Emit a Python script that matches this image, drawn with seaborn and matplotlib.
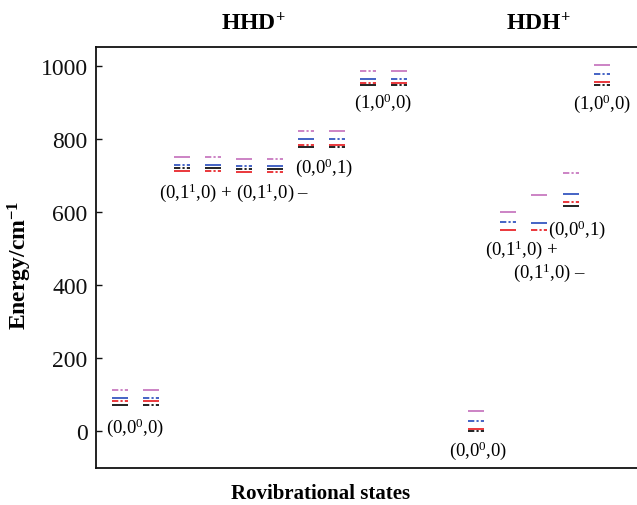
import numpy as np
import pandas as pd
import matplotlib
matplotlib.use('Agg')
import matplotlib.pyplot as plt
import seaborn as sns

sns.set_style('ticks')
plt.rcParams['font.family'] = ['Liberation Serif', 'DejaVu Serif']
plt.rcParams['mathtext.fontset'] = 'custom'
plt.rcParams['mathtext.rm'] = 'Liberation Serif'
plt.rcParams['mathtext.it'] = 'Liberation Serif:italic'
plt.rcParams['mathtext.bf'] = 'Liberation Serif:bold'

# ---------------- data (cm^-1) ----------------
# HHD+ : two columns per state
hhd_cols = ['000a', '000b', '010pa', '010pb', '010ma', '010mb', '001a', '001b', '100a', '100b']
hhd_black = [73, 73, 722, 722, 719, 719, 779, 779, 948, 948]
hhd_red = [82, 82, 712, 712, 711, 711, 785, 785, 953, 953]
hhd_blue = [92, 92, 729, 729, 726, 726, 800, 800, 965, 965]
hhd_magenta = [113, 113, 750, 750, 745, 745, 822, 822, 985, 985]

# HDH+ : one column per state
hdh_cols = ['000', '010p', '010m', '001', '100']
hdh_black = [0, np.nan, np.nan, 616, 948]
hdh_red = [8, 552, 550, 627, 955]
hdh_blue = [28, 572, 570, 650, 977]
hdh_magenta = [57, 601, 646, 708, 1003]

y_ticks = [0, 200, 400, 600, 800, 1000]

# ---------------- styles ----------------
colors = {'black': '#111111', 'red': '#e8282c', 'blue': '#3657c0', 'magenta': '#c879c0'}
DD = (0, (3.5, 1.2, 1.2, 1.2))
S = '-'
# line style per column for (magenta, blue, red, black)
patA = {'magenta': DD, 'blue': S, 'red': DD, 'black': S}
patB = {'magenta': S, 'blue': DD, 'red': S, 'black': DD}
hhd_pats = [patA, patB, patB, patA, patB, patA, patA, patB, patA, patB]
hdh_pats = [patB, patB,
            {'magenta': S, 'blue': S, 'red': DD, 'black': DD},
            patA, patB]

rows = []
for i, c in enumerate(hhd_cols):
    for name, arr in [('black', hhd_black), ('red', hhd_red), ('blue', hhd_blue), ('magenta', hhd_magenta)]:
        rows.append(dict(mol='HHD', col=i, color=name, E=arr[i], ls=hhd_pats[i][name]))
for j, c in enumerate(hdh_cols):
    for name, arr in [('black', hdh_black), ('red', hdh_red), ('blue', hdh_blue), ('magenta', hdh_magenta)]:
        rows.append(dict(mol='HDH', col=j, color=name, E=arr[j], ls=hdh_pats[j][name]))
df = pd.DataFrame(rows).dropna(subset=['E'])

W, H = 637, 506
fig = plt.figure(figsize=(W / 100, H / 100), dpi=100)
ax = fig.add_axes([96 / W, 1 - 469 / H, 1 - 96 / W, (469 - 48) / H])

def xpos(r):
    if r['mol'] == 'HHD':
        return 24 + 31 * r['col']
    return 380 + 31.5 * r['col']

df['x'] = df.apply(xpos, axis=1)
hw = 8
for _, r in df.iterrows():
    ax.hlines(r['E'], r['x'] - hw, r['x'] + hw, color=colors[r['color']],
              linestyle=r['ls'], lw=1.3)

ax.set_xlim(0, 541)
ax.set_ylim(-100, 1052)
ax.set_yticks(y_ticks)
ax.set_yticklabels([str(t) for t in y_ticks], fontsize=17, color='#000000')
ax.set_xticks([])
ax.tick_params(axis='y', direction='in', length=4, width=1, pad=6, colors='#111111')
for s in ['left', 'top', 'bottom']:
    ax.spines[s].set_linewidth(1.3)
    ax.spines[s].set_color('#111111')
ax.spines['right'].set_visible(False)

fs = 13.5
labels = [
    ('(0,0$^{0}$,0)', 39, 14),
    ('(0,1$^{1}$,0) + (0,1$^{1}$,0) –', 138, 655),
    ('(0,0$^{0}$,1)', 228, 723),
    ('(1,0$^{0}$,0)', 287, 901),
    ('(0,0$^{0}$,0)', 382, -49),
    ('(0,1$^{1}$,0) +', 426, 499),
    ('(0,1$^{1}$,0) –', 454, 438),
    ('(0,0$^{0}$,1)', 481, 556),
    ('(1,0$^{0}$,0)', 506, 899),
]
for t, x, y in labels:
    ax.text(x, y, t, ha='center', va='center', fontsize=fs, color='#000000')

fig.text(253 / W, 1 - 24 / H, r'HHD$^{\mathbf{+}}$', ha='center', va='center',
         fontsize=17, fontweight='bold', color='#000000')
fig.text(538 / W, 1 - 24 / H, r'HDH$^{\mathbf{+}}$', ha='center', va='center',
         fontsize=17, fontweight='bold', color='#000000')
fig.text(321 / W, 1 - 494 / H, 'Rovibrational states', ha='center', va='center',
         fontsize=15, fontweight='bold', color='#000000')
fig.text(20 / W, 1 - 265 / H, r'Energy/cm$^{\mathbf{-1}}$', ha='center', va='center',
         rotation=90, fontsize=17, fontweight='bold', color='#000000')

fig.savefig('out.png', dpi=100)
